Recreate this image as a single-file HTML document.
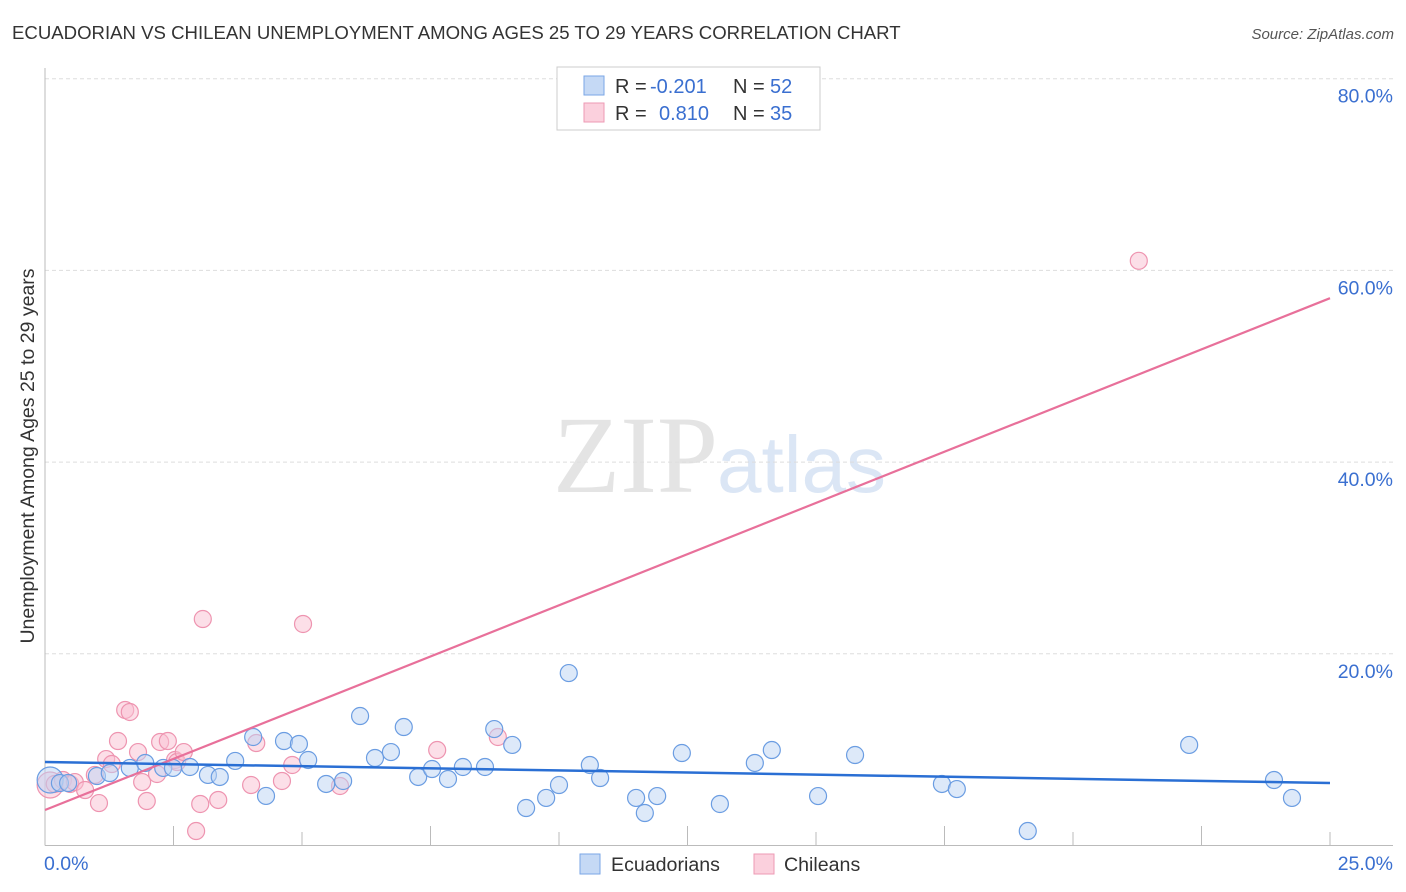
<!DOCTYPE html>
<html><head><meta charset="utf-8">
<style>
body{margin:0;background:#fff;font-family:"Liberation Sans",sans-serif;}
#wrap{position:relative;width:1406px;height:892px;overflow:hidden;}
</style></head>
<body>
<div id="wrap">
<svg id="svg" width="1406" height="892" xmlns="http://www.w3.org/2000/svg">
<text x="12" y="39" font-size="18.6" fill="#333">ECUADORIAN VS CHILEAN UNEMPLOYMENT AMONG AGES 25 TO 29 YEARS CORRELATION CHART</text>
<text x="1394" y="39" font-size="15" fill="#555" font-style="italic" text-anchor="end">Source: ZipAtlas.com</text>
<g>
<text x="553" y="492" font-size="110" fill="#e4e4e4" font-family="Liberation Serif,serif">ZIP</text>
<text x="717" y="492" font-size="80" fill="#dbe6f5">atlas</text>
</g>
<g id="grid"></g>
<g id="axes"></g>
<g id="marks"></g>
<text transform="translate(34,456) rotate(-90)" font-size="19.5" fill="#333" text-anchor="middle">Unemployment Among Ages 25 to 29 years</text>
<g>
<rect x="557" y="67" width="263" height="63" fill="#fff" stroke="#ccc"/>
<rect x="584" y="76" width="20" height="19" fill="#c5d9f5" stroke="#7aa6e6"/>
<rect x="584" y="103" width="20" height="19" fill="#fbd0dd" stroke="#ee9ab4"/>
<text x="615" y="93" font-size="20" fill="#333">R =</text>
<text x="650" y="93" font-size="20" fill="#3a6fd0">-0.201</text>
<text x="733" y="93" font-size="20" fill="#333">N =</text>
<text x="770" y="93" font-size="20" fill="#3a6fd0">52</text>
<text x="615" y="120" font-size="20" fill="#333">R =</text>
<text x="659" y="120" font-size="20" fill="#3a6fd0">0.810</text>
<text x="733" y="120" font-size="20" fill="#333">N =</text>
<text x="770" y="120" font-size="20" fill="#3a6fd0">35</text>
</g>
<g>
<rect x="580" y="854" width="20" height="20" fill="#c5d9f5" stroke="#7aa6e6"/>
<text x="611" y="871" font-size="19.6" fill="#333">Ecuadorians</text>
<rect x="754" y="854" width="20" height="20" fill="#fbd0dd" stroke="#ee9ab4"/>
<text x="784" y="871" font-size="19.6" fill="#333">Chileans</text>
</g>
</svg>
</div>
<script>
const blueX=[0.10,0.29,0.45,1.01,1.26,1.65,1.95,2.30,2.49,2.82,3.17,3.40,3.70,4.05,4.30,4.65,4.94,5.12,5.47,5.80,6.13,6.42,6.73,6.98,7.26,7.53,7.84,8.13,8.56,8.74,9.09,9.36,9.75,10.00,10.19,10.60,10.80,11.50,11.67,11.91,12.39,13.13,13.81,14.14,15.04,15.76,17.45,17.74,19.12,22.26,23.91,24.26];
const blueY=[6.83,6.52,6.52,7.25,7.56,8.09,8.61,8.09,8.09,8.19,7.36,7.15,8.82,11.32,5.17,10.90,10.59,8.92,6.42,6.73,13.51,9.13,9.75,12.36,7.15,7.98,6.94,8.19,8.19,12.15,10.49,3.91,4.96,6.31,17.99,8.40,7.04,4.96,3.39,5.16,9.65,4.33,8.61,9.96,5.16,9.44,6.42,5.89,1.51,10.49,6.83,4.96];
const pinkX=[0.10,0.19,0.35,0.49,0.58,0.78,0.97,1.05,1.19,1.30,1.42,1.56,1.65,1.81,1.89,1.98,2.18,2.24,2.39,2.53,2.57,2.70,2.94,3.02,3.07,3.37,4.01,4.11,4.61,4.81,5.02,5.74,7.63,8.81,21.28];
const pinkY=[6.31,6.42,6.83,6.42,6.62,5.79,7.36,4.43,9.02,8.50,10.90,14.14,13.93,9.75,6.62,4.64,7.46,10.80,10.90,8.92,8.71,9.75,1.51,4.33,23.63,4.75,6.31,10.69,6.73,8.40,23.11,6.21,9.96,11.32,61.0];
const blueTrend=[8.71,6.52];
const pinkTrend=[3.70,57.1];
const yTicks=[20,40,60,80];
const yTickLabels=["20.0%","40.0%","60.0%","80.0%"];
const xTicks=[0,2.5,5,7.5,10,12.5,15,17.5,20,22.5,25];
const xEndLabels=["0.0%","25.0%"];

const NS="http://www.w3.org/2000/svg";
const X0=45,X1=1330,Y0=845.5,YS=9.585;
function sx(v){return X0+(X1-X0)*v/25;}
function sy(v){return Y0-v*YS;}
function mk(t,a,p){const e=document.createElementNS(NS,t);for(const k in a)e.setAttribute(k,a[k]);p.appendChild(e);return e;}
const grid=document.getElementById('grid'),axes=document.getElementById('axes'),marks=document.getElementById('marks');
yTicks.forEach((v,i)=>{
  const l=mk('line',{x1:X0,x2:1393,y1:sy(v),y2:sy(v),stroke:'#ddd','stroke-dasharray':'4,3'},grid);
  
  
  const t=mk('text',{x:1393,y:sy(v)+24,'font-size':19.5,fill:'#3a6fd0','text-anchor':'end'},axes);
  t.textContent=yTickLabels[i];
  
  
});
let a=mk('line',{x1:X0,x2:X0,y1:68,y2:Y0,stroke:'#bbb'},axes);


a=mk('line',{x1:X0,x2:1393,y1:Y0,y2:Y0,stroke:'#bbb'},axes);


xTicks.forEach((v,i)=>{
  if(i===0)return;
  const l=mk('line',{x1:sx(v),x2:sx(v),y1:i%2?826:832,y2:Y0,stroke:'#bbb'},axes);
  
  
});
let t=mk('text',{x:44,y:870,'font-size':19.5,fill:'#3a6fd0'},axes);t.textContent=xEndLabels[0];


t=mk('text',{x:1393,y:870,'font-size':19.5,fill:'#3a6fd0','text-anchor':'end'},axes);t.textContent=xEndLabels[1];


function pts(xs,ys,fill,stroke,name){
  xs.forEach((x,i)=>{
    const c=mk('circle',{cx:sx(x),cy:sy(ys[i]),r:i===0?13:8.5,fill:fill,'fill-opacity':0.5,stroke:stroke,'stroke-width':1.2},marks);
    
    
  });
}
pts(pinkX,pinkY,'#f9c0d2','#ee94b0','chilean-point');
pts(blueX,blueY,'#bcd4f4','#6b9de2','ecuadorian-point');
let tl=mk('line',{x1:sx(0),y1:sy(pinkTrend[0]),x2:sx(25),y2:sy(pinkTrend[1]),stroke:'#e8709a','stroke-width':2.2},marks);


tl=mk('line',{x1:sx(0),y1:sy(blueTrend[0]),x2:sx(25),y2:sy(blueTrend[1]),stroke:'#2a6fd4','stroke-width':2.5},marks);


</script>
</body></html>
